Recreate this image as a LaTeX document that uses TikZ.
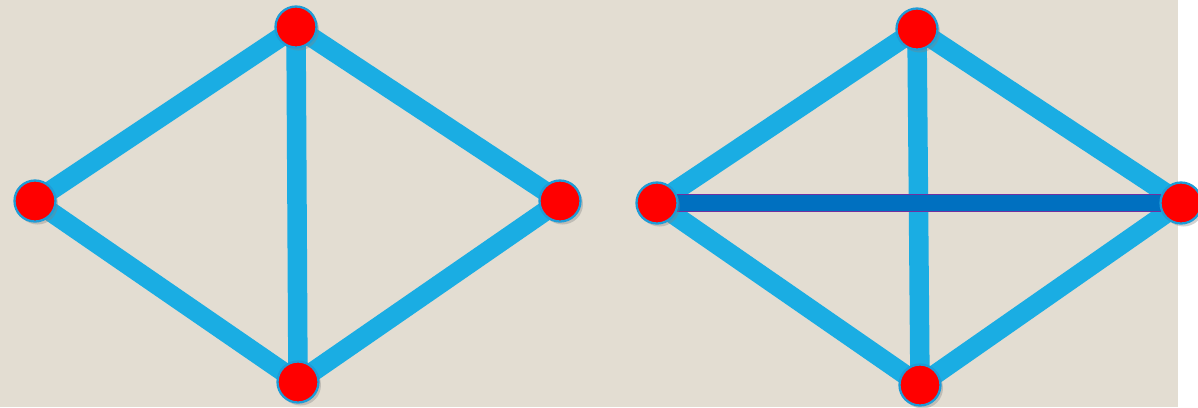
\documentclass[tikz,border=0pt]{standalone}
\usepackage{tikz}
\usetikzlibrary{shadows}
\definecolor{paper}{HTML}{E3DDD2}
\definecolor{edgecol}{HTML}{1AADE3}
\definecolor{diagcol}{HTML}{0070C0}
\definecolor{diagrim}{HTML}{7030A0}
\definecolor{vrim}{HTML}{1E9CD7}
\pgfdeclarelayer{bg}
\pgfdeclarelayer{paperlayer}
\pgfsetlayers{paperlayer,bg,main}

\begin{document}
\begin{tikzpicture}[x=0.02cm, y=-0.02cm, line cap=butt,
  vert/.style={circle, fill=red, draw=vrim, line width=1.3pt,
               minimum size=0.82cm, inner sep=0pt,
               drop shadow={shadow xshift=0.5mm, shadow yshift=-0.6mm, opacity=0.35}},
  shade/.style={preaction={draw=black!70, opacity=0.3,
               transform canvas={shift={(2.5,2.5)}}}},
  edge/.style={shade, draw=edgecol, line width=0.39cm},
  diag/.style={shade, draw=diagrim, line width=0.37cm,
               postaction={draw=diagcol, line width=0.32cm}}]

\useasboundingbox (0,0) rectangle (1198,407);
\begin{pgfonlayer}{paperlayer}
  \fill[white] (0,0) rectangle (1198,407);
  \fill[paper] (0,0) rectangle (1178,407);
\end{pgfonlayer}

% left graph
\node[vert] (lt) at (296,27) {};
\node[vert] (ll) at (35,201) {};
\node[vert] (lr) at (560,201) {};
\node[vert] (lb) at (298,382) {};

% right graph
\node[vert] (rt) at (917,29) {};
\node[vert] (rl) at (657,203) {};
\node[vert] (rr) at (1181,203) {};
\node[vert] (rb) at (920,385) {};

\begin{pgfonlayer}{bg}
  \foreach \a/\b in {lt/ll, lt/lr, ll/lb, lr/lb, lt/lb,
                     rt/rl, rt/rr, rl/rb, rr/rb, rt/rb}
    \draw[edge] (\a.center) -- (\b.center);
  \draw[diag] (rl.center) -- (rr.center);
\end{pgfonlayer}

\end{tikzpicture}
\end{document}
